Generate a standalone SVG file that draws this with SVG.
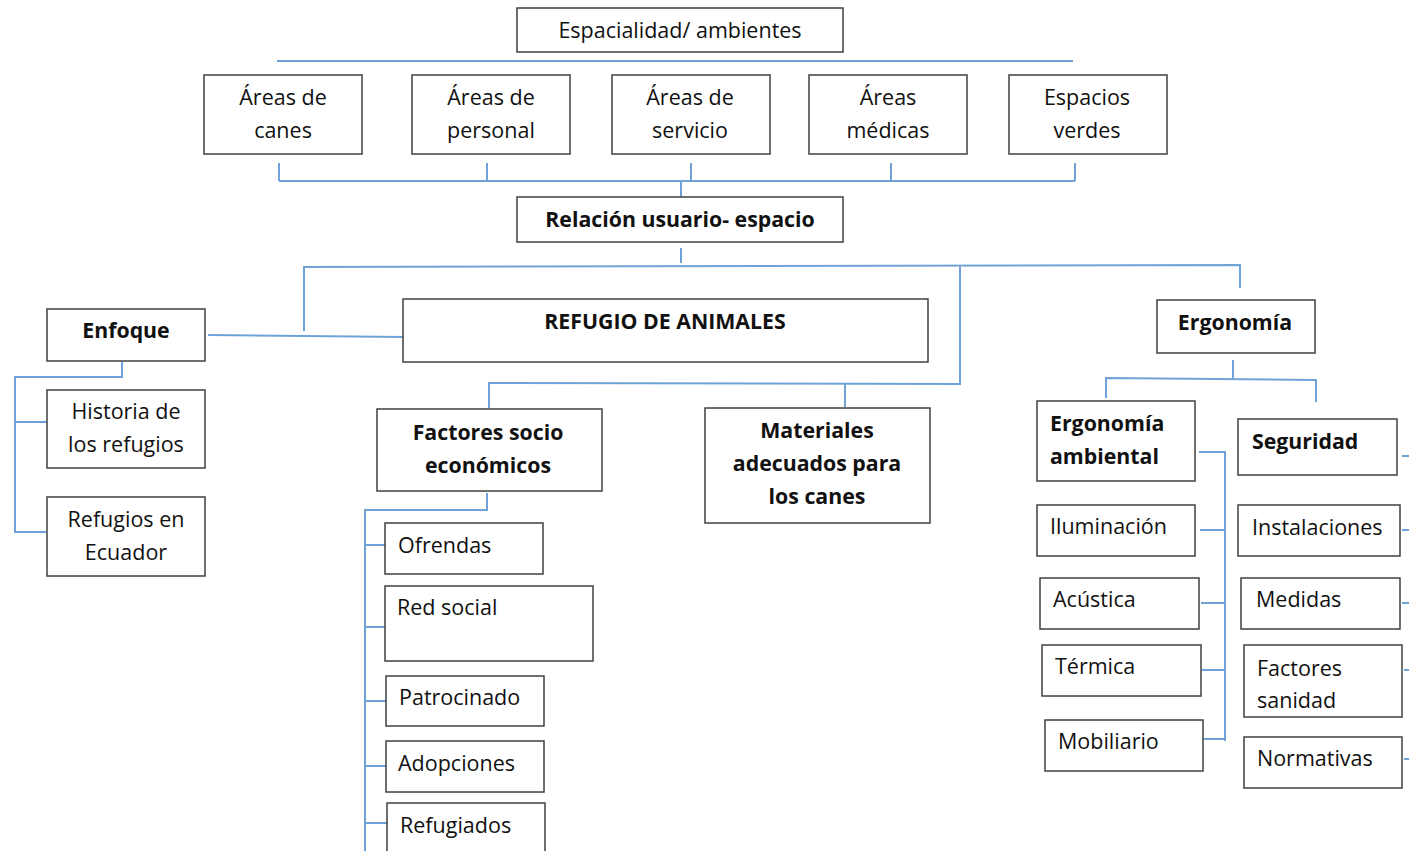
<svg xmlns="http://www.w3.org/2000/svg" width="1409" height="851" viewBox="0 0 1409 851">
<style>
.b{fill:#fff;stroke:#404040;stroke-width:1.5}
.c{fill:none;stroke:#6fa3d8;stroke-width:2}
text{font-family:"Open Sans","Liberation Sans",sans-serif;font-size:21.5px;fill:#111;dominant-baseline:central;transform:translateY(-1px)}
.m{text-anchor:middle}
.w{font-weight:bold;font-size:21.3px}
</style>
<rect width="1409" height="851" fill="#fff"/>
<g id="connectors">
<path class="c" d="M277 61H1073"/>
<path class="c" d="M279 163V181M487 163V181M691 163V181M891 163V181M1075 163V181M279 181H1075M681 181V197"/>
<path class="c" d="M681 248V263M304 331V267L1240 265V288M960 266V384L489 383V408M845 384V407"/>
<path class="c" d="M208 335L403 337"/>
<path class="c" d="M122 362V377H15V532H46M15 422H47"/>
<path class="c" d="M487 493V510H365V851M365 545H385M365 627H385M365 701H386M365 766H386M365 823H387"/>
<path class="c" d="M1233 360V379M1106 398V378L1316 380V402"/>
<path class="c" d="M1199 452H1225V741M1200 530H1225M1201 603H1225M1202 670H1225M1200 739H1225"/>
<path class="c" d="M1402 456H1409M1402 530H1409M1402 603H1409M1404 670H1409M1404 759H1409"/>
</g>
<g id="n-espacialidad"><rect class="b" x="517" y="8" width="326" height="44"/><text class="m" x="680" y="30">Espacialidad/ ambientes</text></g>
<g id="n-canes"><rect class="b" x="204" y="75" width="158" height="79"/><text class="m" x="283" y="97">Áreas de</text><text class="m" x="283" y="130">canes</text></g>
<g id="n-personal"><rect class="b" x="412" y="75" width="158" height="79"/><text class="m" x="491" y="97">Áreas de</text><text class="m" x="491" y="130">personal</text></g>
<g id="n-servicio"><rect class="b" x="612" y="75" width="158" height="79"/><text class="m" x="690" y="97">Áreas de</text><text class="m" x="690" y="130">servicio</text></g>
<g id="n-medicas"><rect class="b" x="809" y="75" width="158" height="79"/><text class="m" x="888" y="97">Áreas</text><text class="m" x="888" y="130">médicas</text></g>
<g id="n-verdes"><rect class="b" x="1009" y="75" width="158" height="79"/><text class="m" x="1087" y="97">Espacios</text><text class="m" x="1087" y="130">verdes</text></g>
<g id="n-relacion"><rect class="b" x="517" y="197" width="326" height="45"/><text class="m w" x="680" y="219">Relación usuario- espacio</text></g>
<g id="n-enfoque"><rect class="b" x="47" y="309" width="158" height="52"/><text class="m w" x="126" y="330">Enfoque</text></g>
<g id="n-refugio"><rect class="b" x="403" y="299" width="525" height="63"/><text class="m w" x="665" y="321">REFUGIO DE ANIMALES</text></g>
<g id="n-ergonomia"><rect class="b" x="1157" y="300" width="158" height="53"/><text class="m w" x="1235" y="322">Ergonomía</text></g>
<g id="n-historia"><rect class="b" x="47" y="390" width="158" height="78"/><text class="m" x="126" y="411">Historia de</text><text class="m" x="126" y="444">los refugios</text></g>
<g id="n-ecuador"><rect class="b" x="47" y="497" width="158" height="79"/><text class="m" x="126" y="519">Refugios en</text><text class="m" x="126" y="552">Ecuador</text></g>
<g id="n-factores"><rect class="b" x="377" y="409" width="225" height="82"/><text class="m w" x="488" y="432">Factores socio</text><text class="m w" x="488" y="465">económicos</text></g>
<g id="n-materiales"><rect class="b" x="705" y="408" width="225" height="115"/><text class="m w" x="817" y="430">Materiales</text><text class="m w" x="817" y="463">adecuados para</text><text class="m w" x="817" y="496">los canes</text></g>
<g id="n-ofrendas"><rect class="b" x="385" y="523" width="158" height="51"/><text x="398" y="545">Ofrendas</text></g>
<g id="n-redsocial"><rect class="b" x="385" y="586" width="208" height="75"/><text x="397" y="607">Red social</text></g>
<g id="n-patrocinado"><rect class="b" x="386" y="676" width="158" height="50"/><text x="399" y="697">Patrocinado</text></g>
<g id="n-adopciones"><rect class="b" x="386" y="741" width="158" height="51"/><text x="398" y="763">Adopciones</text></g>
<g id="n-refugiados"><rect class="b" x="387" y="803" width="158" height="60"/><text x="400" y="825">Refugiados</text></g>
<g id="n-ergamb"><rect class="b" x="1037" y="401" width="158" height="80"/><text class="w" x="1050" y="423">Ergonomía</text><text class="w" x="1050" y="456">ambiental</text></g>
<g id="n-seguridad"><rect class="b" x="1238" y="419" width="159" height="56"/><text class="w" x="1252" y="441">Seguridad</text></g>
<g id="n-iluminacion"><rect class="b" x="1037" y="505" width="158" height="51"/><text x="1050" y="526">Iluminación</text></g>
<g id="n-instalaciones"><rect class="b" x="1238" y="505" width="162" height="51"/><text x="1252" y="527">Instalaciones</text></g>
<g id="n-acustica"><rect class="b" x="1040" y="578" width="159" height="51"/><text x="1053" y="599">Acústica</text></g>
<g id="n-medidas"><rect class="b" x="1241" y="578" width="159" height="51"/><text x="1256" y="599">Medidas</text></g>
<g id="n-termica"><rect class="b" x="1042" y="645" width="159" height="51"/><text x="1055" y="666">Térmica</text></g>
<g id="n-sanidad"><rect class="b" x="1244" y="645" width="158" height="72"/><text x="1257" y="668">Factores</text><text x="1257" y="700">sanidad</text></g>
<g id="n-mobiliario"><rect class="b" x="1045" y="720" width="158" height="51"/><text x="1058" y="741">Mobiliario</text></g>
<g id="n-normativas"><rect class="b" x="1244" y="737" width="158" height="51"/><text x="1257" y="758">Normativas</text></g>
</svg>
